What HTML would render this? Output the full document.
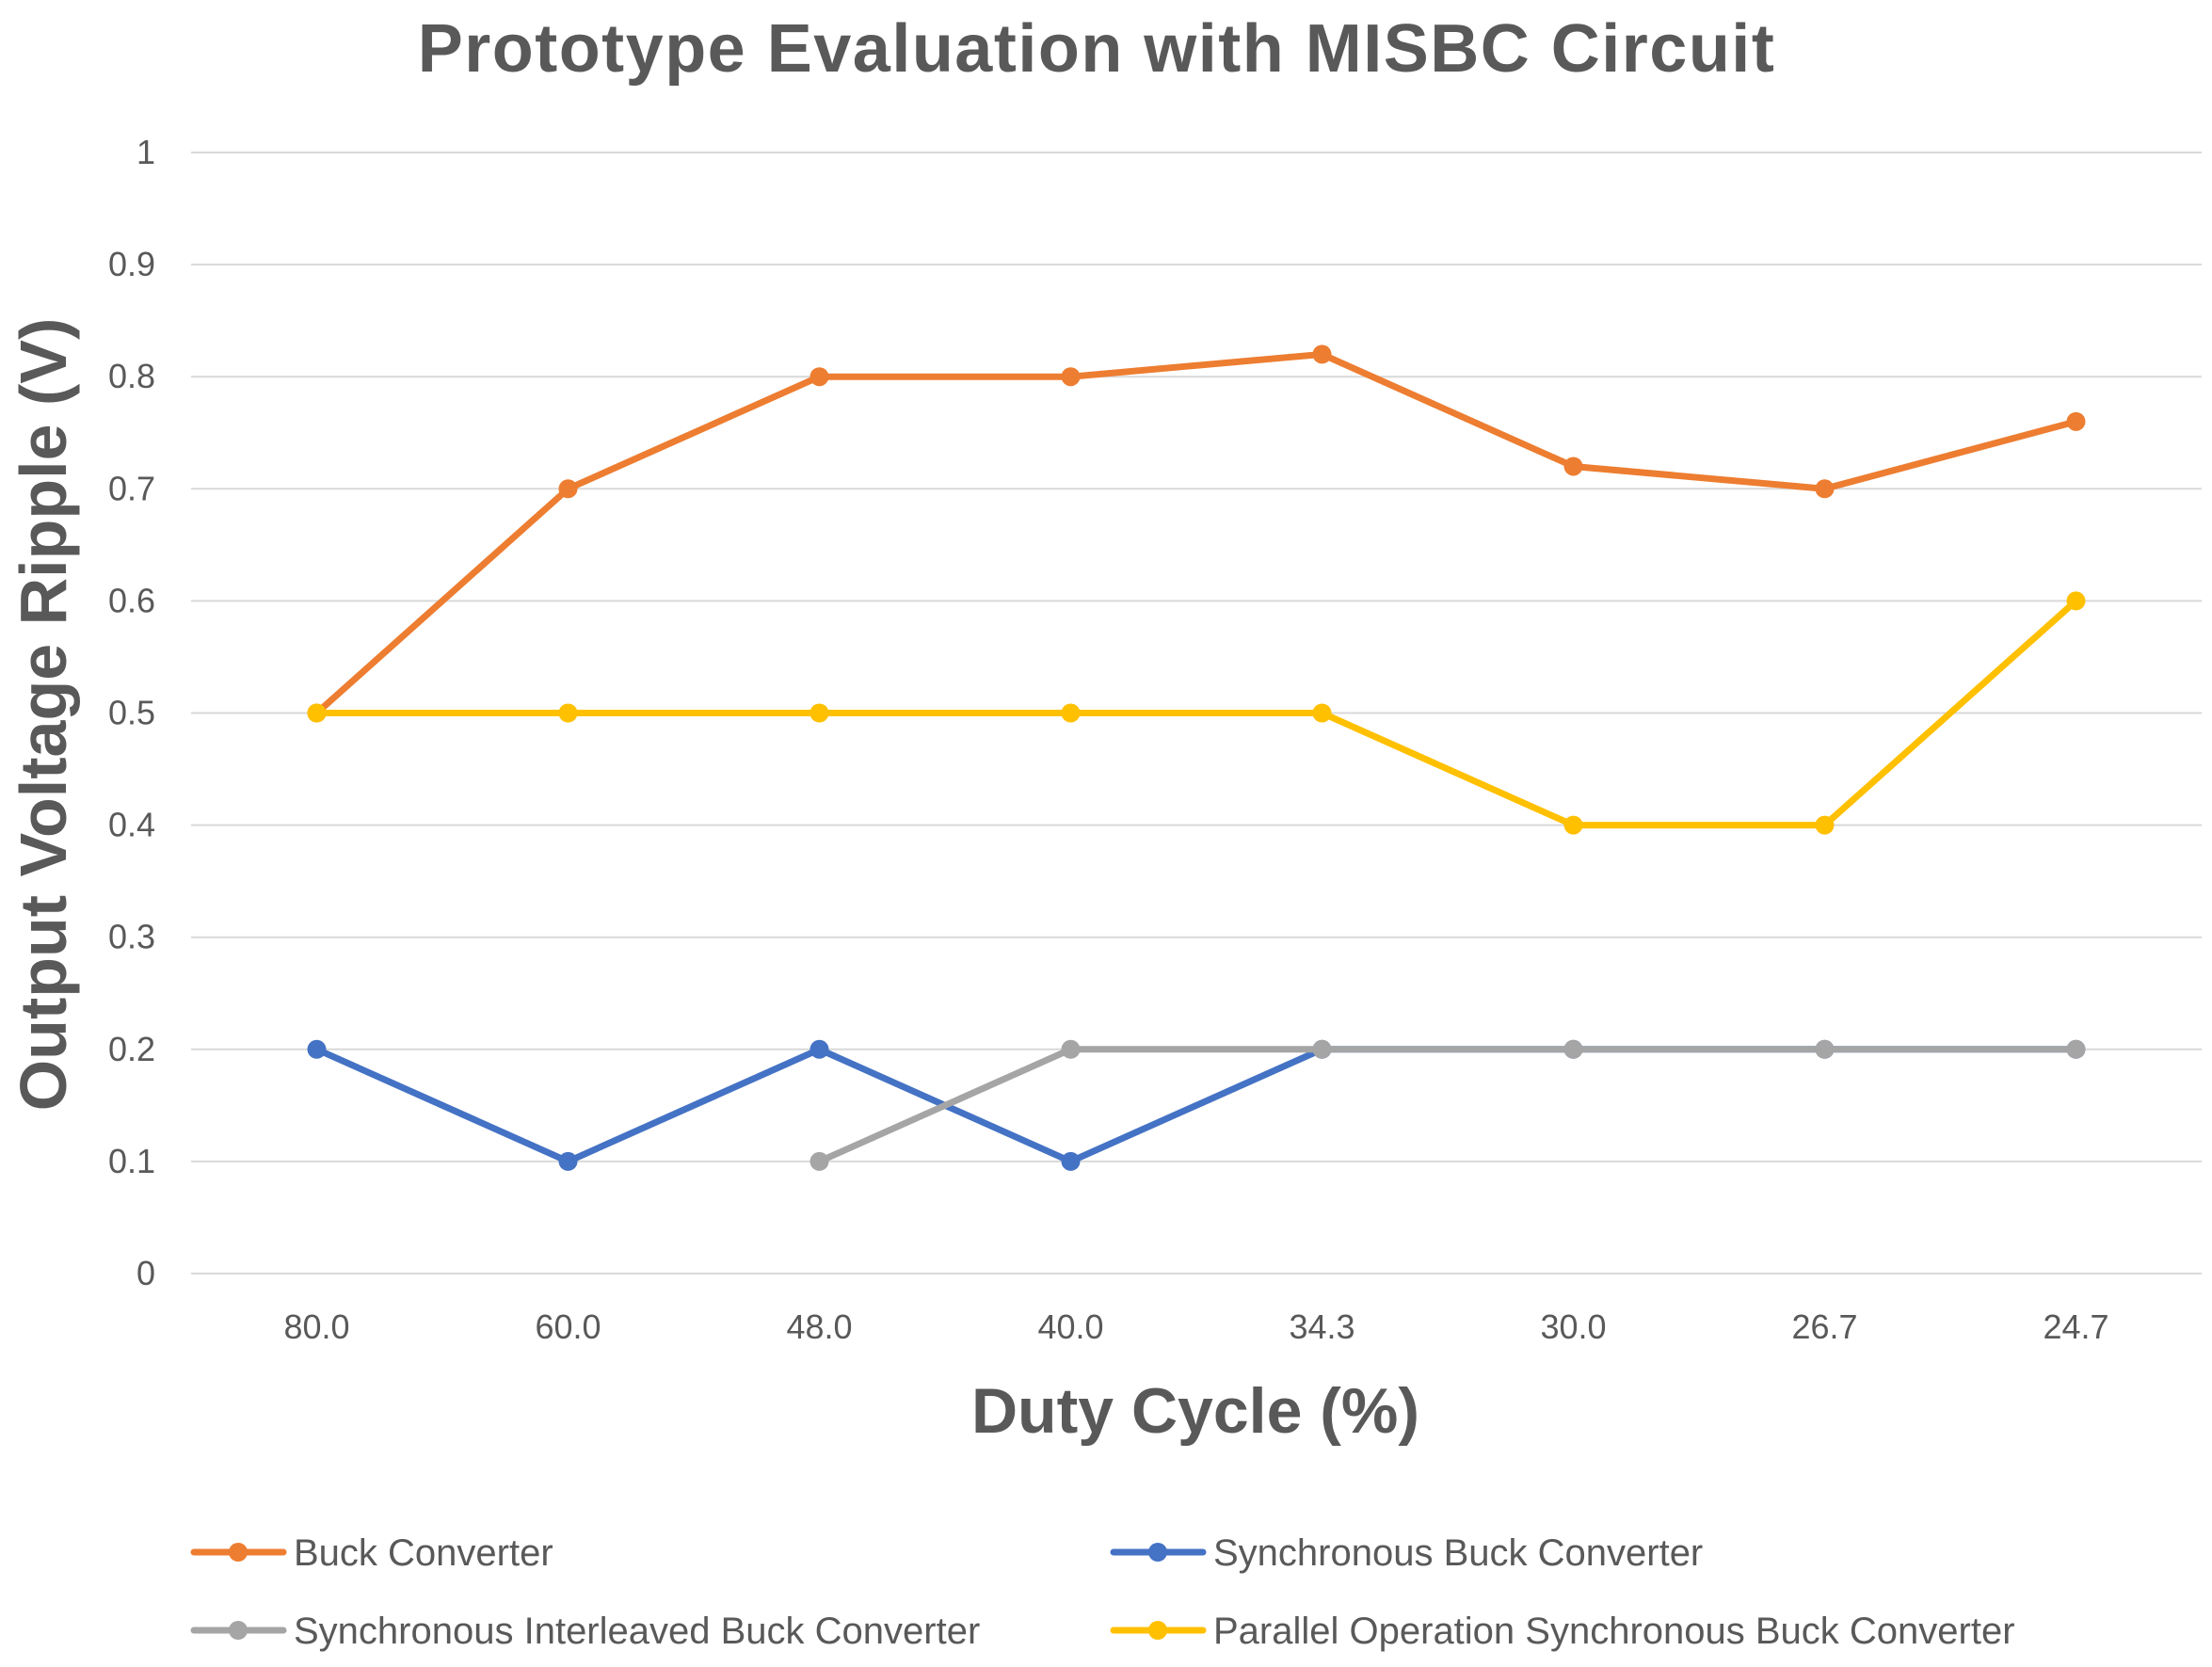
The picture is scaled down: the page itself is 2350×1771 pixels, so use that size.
<!DOCTYPE html>
<html><head><meta charset="utf-8"><style>
html,body{margin:0;padding:0;background:#fff;}
svg{display:block;font-family:"Liberation Sans",sans-serif;}
</style></head><body>
<svg id="chart" width="2350" height="1771" viewBox="0 0 2350 1771">
<text x="1165" y="76" text-anchor="middle" font-size="72" font-weight="bold" letter-spacing="1.5" fill="#595959">Prototype Evaluation with MISBC Circuit</text>
<g id="grid"></g>
<g id="yticks"></g>
<g id="xticks"></g>
<g id="series"></g>
<text transform="translate(70,759) rotate(-90)" text-anchor="middle" font-size="70" font-weight="bold" fill="#595959">Output Voltage Ripple (V)</text>
<text x="1270" y="1522" text-anchor="middle" font-size="68" font-weight="bold" fill="#595959">Duty Cycle (%)</text>
<g id="legend"></g>
</svg>
<script>
const categories=["80.0","60.0","48.0","40.0","34.3","30.0","26.7","24.7"];
const yTicks=[0,0.1,0.2,0.3,0.4,0.5,0.6,0.7,0.8,0.9,1];
const yTickLabels=["0","0.1","0.2","0.3","0.4","0.5","0.6","0.7","0.8","0.9","1"];
const seriesNames=["Buck Converter","Synchronous Buck Converter","Synchronous Interleaved Buck Converter","Parallel Operation Synchronous Buck Converter"];
const buck=[0.5,0.7,0.8,0.8,0.82,0.72,0.7,0.76];
const sync=[0.2,0.1,0.2,0.1,0.2,0.2,0.2,0.2];
const interleaved=[null,null,0.1,0.2,0.2,0.2,0.2,0.2];
const parallel=[0.5,0.5,0.5,0.5,0.5,0.4,0.4,0.6];
const colors=["#ED7D31","#4472C4","#A5A5A5","#FFC000"];
const NS="http://www.w3.org/2000/svg";
const L=203,R=2339,T=162,B=1353;
const band=(R-L)/categories.length;
function xS(i){return L+band*(i+0.5);}
function yS(v){return B-(B-T)*v;}
function mk(tag,attrs,parent){const e=document.createElementNS(NS,tag);for(const k in attrs)e.setAttribute(k,attrs[k]);parent.appendChild(e);return e;}
const grid=document.getElementById('grid'),yt=document.getElementById('yticks'),xt=document.getElementById('xticks'),sg=document.getElementById('series'),lg=document.getElementById('legend');
yTicks.forEach((v,i)=>{
 const g=mk('line',{x1:L,x2:R,y1:yS(v),y2:yS(v),stroke:'#D9D9D9','stroke-width':2},grid);
 
 
 const t=mk('text',{x:165,y:yS(v)+12,'text-anchor':'end','font-size':36,fill:'#595959'},yt);
 t.textContent=yTickLabels[i];
 
 
});
categories.forEach((c,i)=>{
 const t=mk('text',{x:xS(i),y:1422,'text-anchor':'middle','font-size':36,fill:'#595959'},xt);
 t.textContent=c;
 
 
});
const data=[buck,sync,interleaved,parallel];
const sNames=['buck-series','sync-series','interleaved-series','parallel-series'];
data.forEach((arr,si)=>{
 const g=mk('g',{},sg);
 
 
 let d='',pen=false;
 arr.forEach((v,i)=>{if(v==null){pen=false;return;}d+=(pen?'L':'M')+xS(i)+' '+yS(v)+' ';pen=true;});
 const p=mk('path',{d:d,fill:'none',stroke:colors[si],'stroke-width':7,'stroke-linejoin':'round','stroke-linecap':'round'},g);
 
 
 arr.forEach((v,i)=>{if(v==null)return;
  const c=mk('circle',{cx:xS(i),cy:yS(v),r:10,fill:colors[si]},g);
  
  
 });
});
const lpos=[[206,1649],[1183,1649],[206,1732],[1183,1732]];
seriesNames.forEach((n,i)=>{
 const g=mk('g',{},lg);
 
 
 const [x,y]=lpos[i];
 mk('line',{x1:x,x2:x+95,y1:y,y2:y,stroke:colors[i],'stroke-width':7,'stroke-linecap':'round'},g);
 mk('circle',{cx:x+47,cy:y,r:10,fill:colors[i]},g);
 const t=mk('text',{x:x+106,y:y+14,'font-size':40,fill:'#595959'},g);
 t.textContent=n;
});
</script>
</body></html>
